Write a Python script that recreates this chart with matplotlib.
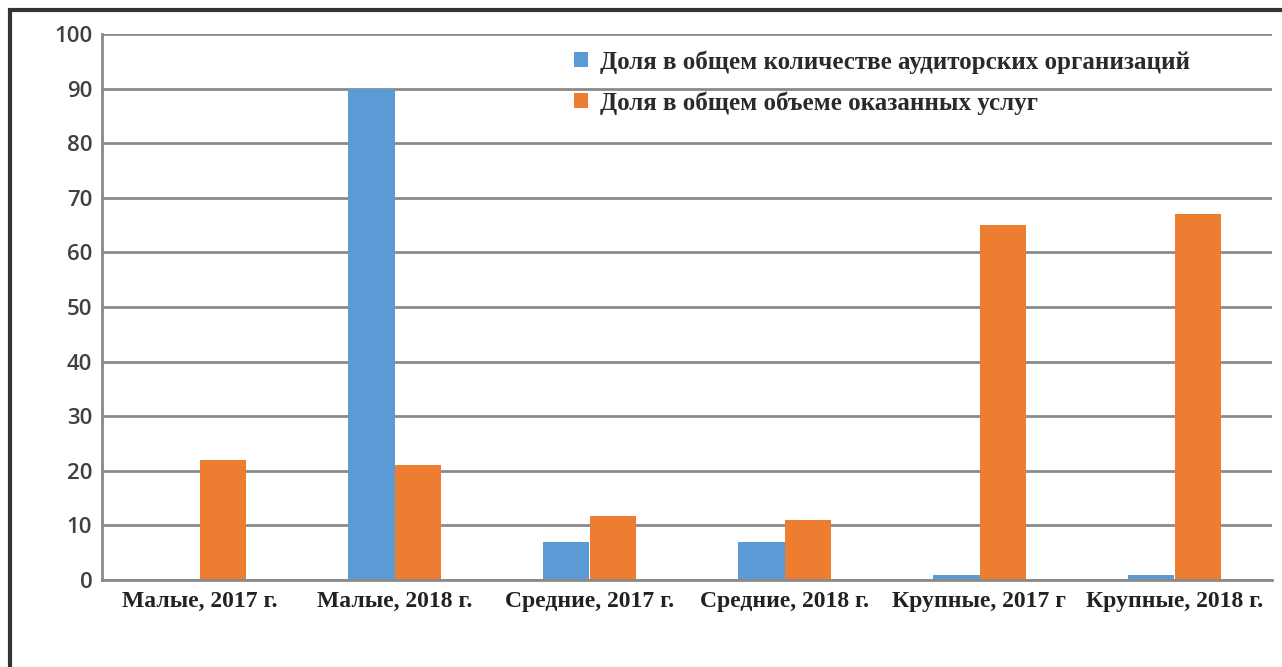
import numpy as np
import matplotlib.pyplot as plt
from matplotlib.patches import Rectangle

# data
categories = ['Малые, 2017 г.', 'Малые, 2018 г.', 'Средние, 2017 г.',
              'Средние, 2018 г.', 'Крупные, 2017 г', 'Крупные, 2018 г.']
share_orgs = [0, 90, 7, 7, 1, 1]
share_services = [22, 21, 11.7, 11, 65, 67]
series_names = ['Доля в общем количестве аудиторских организаций',
                'Доля в общем объеме оказанных услуг']

blue = '#5B9BD5'
orange = '#ED7D31'

fig = plt.figure(figsize=(12.82, 6.67), dpi=100)
ax = fig.add_axes([102/1282, 1 - 580/667, 1170/1282, 546/667])

x = np.arange(len(categories))
w = 0.24
ax.bar(x - w/2, share_orgs, w, color=blue, label=series_names[0])
ax.bar(x + w/2, share_services, w, color=orange, label=series_names[1])

ax.set_xlim(-0.5, len(categories) - 0.5)
ax.set_ylim(0, 100)
ax.set_yticks(range(0, 101, 10))
ax.yaxis.grid(True, color='#8a8a8a', linewidth=2)
ax.set_axisbelow(True)
for s in ['top', 'right']:
    ax.spines[s].set_visible(False)
for s in ['left', 'bottom']:
    ax.spines[s].set_color('#8a8a8a')
    ax.spines[s].set_linewidth(2)
ax.tick_params(length=0)
ax.tick_params(axis='y', labelsize=16, labelcolor='#404040', pad=7)
ax.set_xticks(x)
ax.set_xticklabels(categories, family='Liberation Serif', fontsize=17,
                   fontweight='bold', color='#222222')
ax.tick_params(axis='x', pad=8)
for t in ax.get_yticklabels():
    t.set_family('Open Sans')
    t.set_fontweight('semibold')

ax.legend(loc='upper left', bbox_to_anchor=(456/1170, 1.0),
          frameon=False,
          prop={'family': 'Liberation Serif', 'size': 18, 'weight': 'bold'},
          handlelength=0.55, handleheight=0.55, handletextpad=0.5,
          labelspacing=0.7, borderaxespad=0.25)
for t in ax.get_legend().get_texts():
    t.set_color('#2a2a2a')

# outer frame
fig.patches.append(Rectangle((10/1282, -0.1), 1.2, 1.1 - 10/667, transform=fig.transFigure,
                             fill=False, edgecolor='#333333', linewidth=3))

plt.savefig('out.png', dpi=100)
